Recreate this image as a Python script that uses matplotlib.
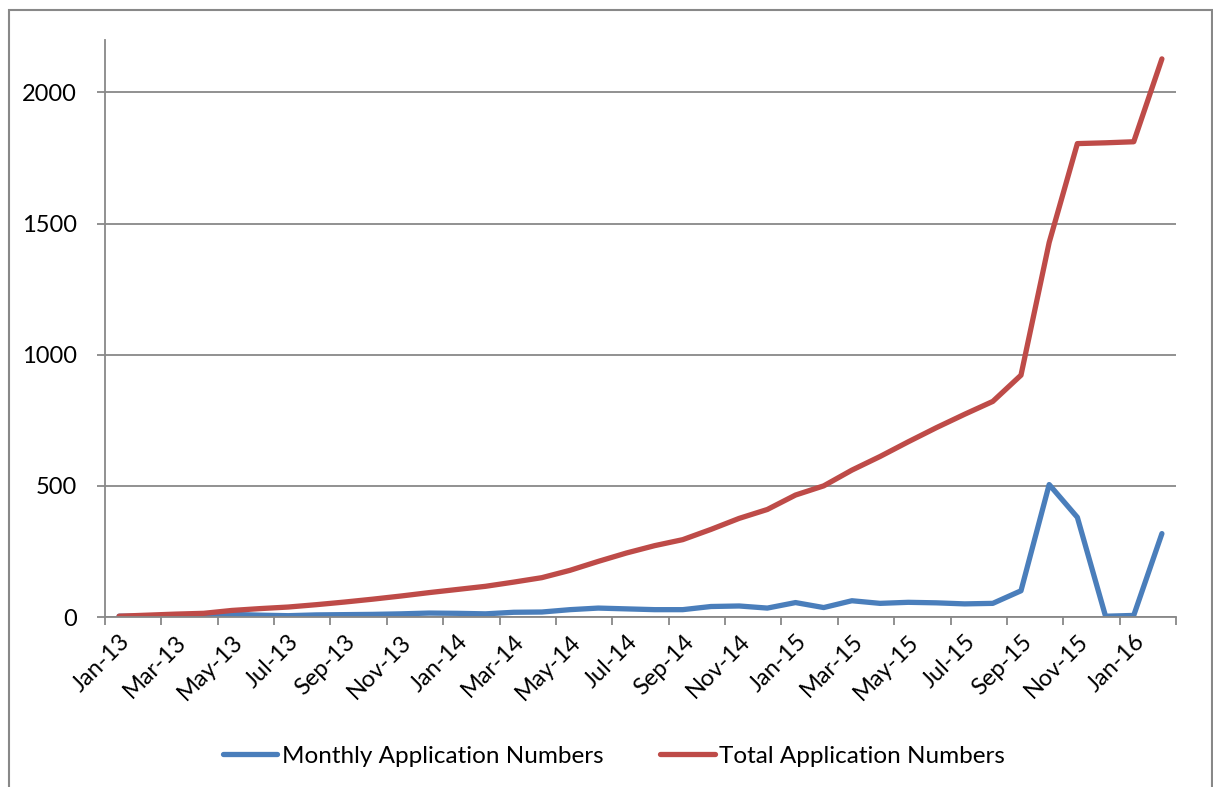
import matplotlib.pyplot as plt
from matplotlib.patches import Rectangle
from matplotlib.transforms import ScaledTranslation
import numpy as np

months = ['Jan-13', 'Feb-13', 'Mar-13', 'Apr-13', 'May-13', 'Jun-13', 'Jul-13', 'Aug-13',
          'Sep-13', 'Oct-13', 'Nov-13', 'Dec-13', 'Jan-14', 'Feb-14', 'Mar-14', 'Apr-14',
          'May-14', 'Jun-14', 'Jul-14', 'Aug-14', 'Sep-14', 'Oct-14', 'Nov-14', 'Dec-14',
          'Jan-15', 'Feb-15', 'Mar-15', 'Apr-15', 'May-15', 'Jun-15', 'Jul-15', 'Aug-15',
          'Sep-15', 'Oct-15', 'Nov-15', 'Dec-15', 'Jan-16', 'Feb-16']

monthly = [3, 3, 2, 2, 10, 7, 5, 8, 9, 10, 12, 15, 14, 12, 18, 19, 28, 34, 31, 28,
           28, 40, 42, 34, 55, 36, 62, 52, 56, 54, 50, 52, 100, 505, 380, 3, 6, 318]

total = [3, 7, 11, 14, 25, 32, 38, 47, 57, 68, 80, 93, 105, 117, 133, 150, 178, 212, 244, 272,
         295, 334, 376, 410, 465, 500, 560, 612, 668, 722, 773, 822, 922, 1428, 1805, 1808, 1812, 2128]

y_ticks = [0, 500, 1000, 1500, 2000]

plt.rcParams['font.family'] = ['Lato', 'DejaVu Sans']
grey = '#888888'

fig = plt.figure(figsize=(12.13, 7.87), dpi=100)
ax = fig.add_axes([105 / 1213, 1 - 617 / 787, (1176 - 105) / 1213, (617 - 40) / 787])

x = np.arange(len(months))
ax.plot(x, monthly, color='#4A7EBB', lw=3.8, solid_joinstyle='round', solid_capstyle='round',
        label='Monthly Application Numbers')
ax.plot(x, total, color='#BE4B48', lw=3.8, solid_joinstyle='round', solid_capstyle='round',
        label='Total Application Numbers')

ax.set_xlim(-0.5, len(months) - 0.5)
ax.set_ylim(0, 2200)
ax.set_yticks(y_ticks)
ax.set_yticklabels([str(v) for v in y_ticks], fontsize=17)
ax.yaxis.grid(True, color=grey, lw=1.3)
ax.set_axisbelow(True)

ax.set_xticks(x[::2])
ax.set_xticklabels(months[::2], rotation=45, ha='right', va='top', fontsize=17,
                   rotation_mode='anchor')
shift = ScaledTranslation(9 / 100, 0, fig.dpi_scale_trans)
for lab in ax.get_xticklabels():
    lab.set_transform(lab.get_transform() + shift)
ax.set_xticks(np.arange(-0.5, len(months), 2), minor=True)
ax.tick_params(axis='x', which='major', length=0, pad=10)
ax.tick_params(axis='x', which='minor', length=6, width=1.3, color=grey)
ax.tick_params(axis='y', length=6, width=1.3, color=grey, pad=14)

for s in ['top', 'right']:
    ax.spines[s].set_visible(False)
for s in ['left', 'bottom']:
    ax.spines[s].set_color(grey)
    ax.spines[s].set_linewidth(1.3)

ax.legend(loc='center', bbox_to_anchor=(614 / 1213, 1 - 756 / 787), bbox_transform=fig.transFigure,
          ncol=2, frameon=False, fontsize=17.5, handlelength=2.25, handletextpad=0.2,
          columnspacing=2.3)

fig.patches.append(Rectangle((9 / 1213, -0.01), 1 - 10 / 1213, 1 - 10 / 787 + 0.01,
                             transform=fig.transFigure, fill=False, edgecolor=grey, lw=1.5))

fig.savefig('out.png', dpi=100)
